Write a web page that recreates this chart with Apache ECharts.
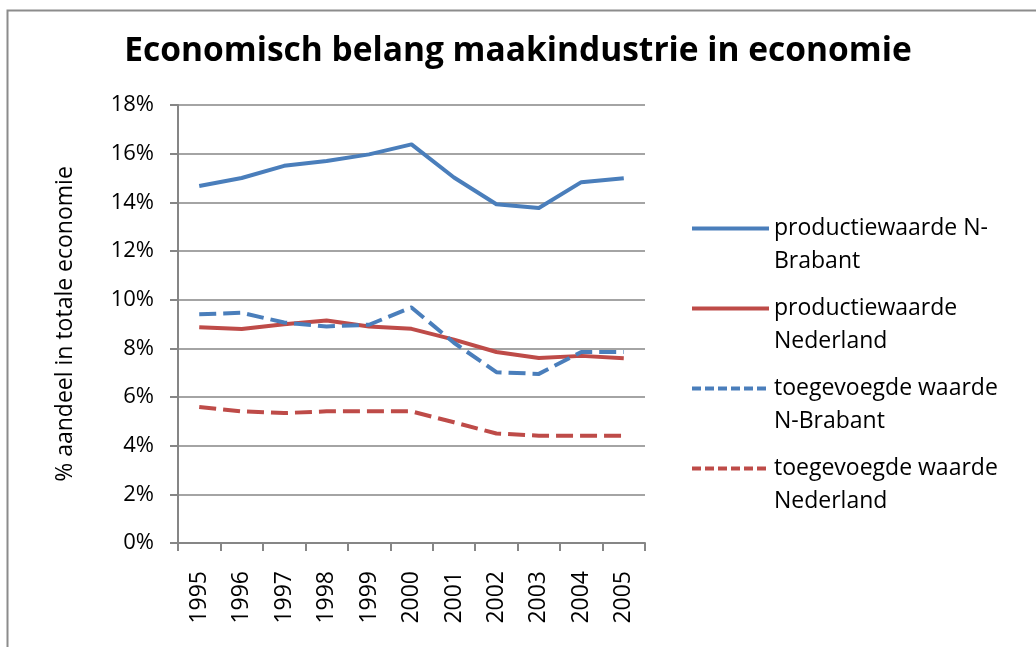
<!DOCTYPE html>
<html>
<head>
<meta charset="utf-8">
<script src="https://cdn.jsdelivr.net/npm/echarts@6/dist/echarts.min.js"></script>
<style>
html,body{margin:0;padding:0;background:#fff;}
#chart{width:1036px;height:647px;}
</style>
</head>
<body>
<div id="chart"></div>
<script>
const years = ['1995','1996','1997','1998','1999','2000','2001','2002','2003','2004','2005'];
const seriesNames = ['productiewaarde N-\nBrabant','productiewaarde\nNederland','toegevoegde waarde\nN-Brabant','toegevoegde waarde\nNederland'];
const prodBrabant = [14.67, 15.0, 15.5, 15.7, 15.97, 16.38, 15.02, 13.92, 13.77, 14.83, 14.99];
const prodNederland = [8.87, 8.79, 8.99, 9.14, 8.90, 8.80, 8.36, 7.85, 7.60, 7.69, 7.59];
const toegBrabant = [9.40, 9.46, 9.06, 8.90, 8.97, 9.68, 8.23, 7.02, 6.95, 7.85, 7.85];
const toegNederland = [5.59, 5.41, 5.34, 5.41, 5.41, 5.41, 4.96, 4.50, 4.41, 4.41, 4.41];
const yTicks = {min: 0, max: 18, interval: 2};

const FONT = 'Open Sans';
const BLUE = '#4A7EBB', RED = '#BE4B48', GRAY = '#868686';

const chart = echarts.init(document.getElementById('chart'));
function mk(name, data, color, dashed) {
  return {
    name: name, type: 'line', data: data, symbol: 'none', smooth: false,
    lineStyle: {color: color, width: 4, type: dashed ? [17, 7] : 'solid', cap: 'butt', join: 'round'},
    itemStyle: {color: color}
  };
}
const legendTops = [179, 259, 339, 419];
function mkLegend(i, dashed) {
  const item = {name: seriesNames[i]};
  if (dashed) item.lineStyle = {type: [9, 4]};
  return {
    orient: 'vertical', left: 690, top: legendTops[i], padding: 0,
    itemWidth: 77, itemHeight: 14,
    data: [item],
    formatter: n => '\n' + n,
    itemStyle: {opacity: 0},
    lineStyle: {width: 4, cap: 'butt'},
    textStyle: {fontFamily: FONT, fontSize: 23, color: '#000', lineHeight: 33}
  };
}
chart.setOption({
  animation: false,
  backgroundColor: '#fff',
  graphic: [{
    type: 'rect', left: 5, top: 8, shape: {width: 1100, height: 700},
    style: {fill: 'none', stroke: '#8c8c8c', lineWidth: 2}, silent: true
  }],
  title: {
    text: 'Economisch belang maakindustrie in economie',
    left: 'center', top: 29,
    textStyle: {fontFamily: FONT, fontWeight: 'bold', fontSize: 33.5, color: '#000'}
  },
  legend: [mkLegend(0, false), mkLegend(1, false), mkLegend(2, true), mkLegend(3, true)],
  grid: {left: 178, right: 391, top: 105, bottom: 104, containLabel: false},
  xAxis: {
    type: 'category', data: years, boundaryGap: true,
    axisLine: {lineStyle: {color: GRAY, width: 2}},
    axisTick: {show: true, length: 8, interval: 0, lineStyle: {color: GRAY, width: 2}},
    axisLabel: {rotate: 90, interval: 0, margin: 28, fontFamily: FONT, fontSize: 23, color: '#000'},
    splitLine: {show: false}
  },
  yAxis: {
    type: 'value', min: yTicks.min, max: yTicks.max, interval: yTicks.interval,
    name: '% aandeel in totale economie', nameLocation: 'middle', nameGap: 101,
    nameTextStyle: {fontFamily: FONT, fontSize: 23, color: '#000'},
    axisLine: {show: true, lineStyle: {color: GRAY, width: 2}},
    axisTick: {show: true, length: 8, lineStyle: {color: GRAY, width: 2}},
    axisLabel: {formatter: '{value}%', margin: 24, fontFamily: FONT, fontSize: 22, color: '#000'},
    splitLine: {show: true, lineStyle: {color: GRAY, width: 1.5}}
  },
  series: [
    mk(seriesNames[0], prodBrabant, BLUE, false),
    mk(seriesNames[1], prodNederland, RED, false),
    mk(seriesNames[2], toegBrabant, BLUE, true),
    mk(seriesNames[3], toegNederland, RED, true)
  ]
});
</script>
</body>
</html>
